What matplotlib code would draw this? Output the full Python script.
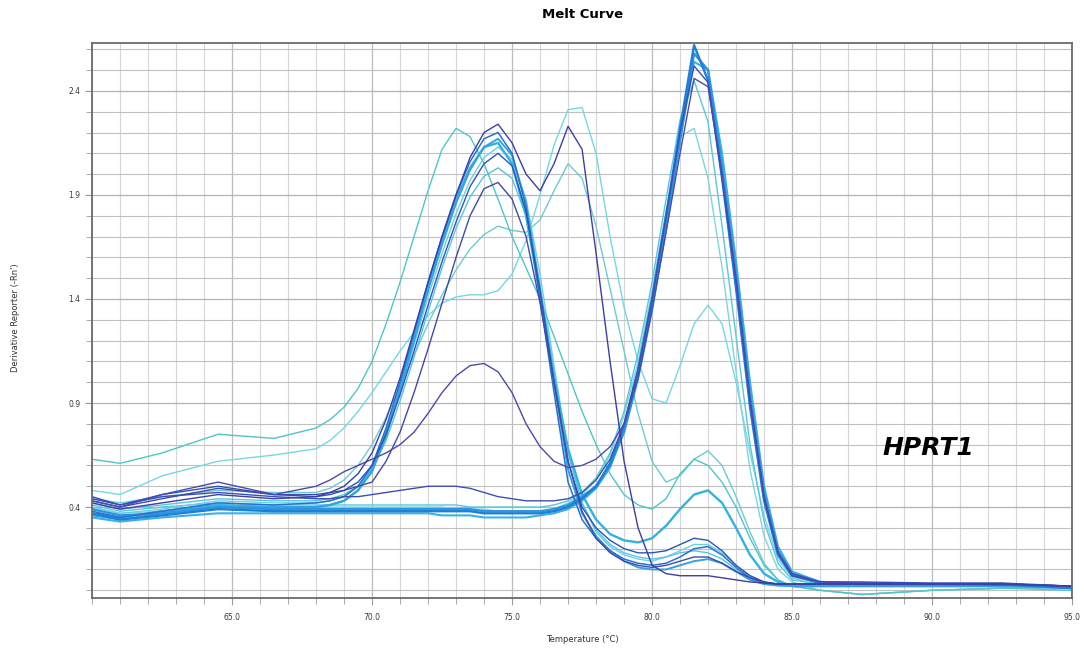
import numpy as np
import matplotlib
matplotlib.use('Agg')
import matplotlib.pyplot as plt
from matplotlib.ticker import MultipleLocator, FixedLocator, FormatStrFormatter

# temperature steps (deg C) shared by all wells
temps = [60, 61, 62.5, 64.5, 66.5,
         68, 68.5, 69, 69.5, 70,
         70.5, 71, 71.5, 72, 72.5,
         73, 73.5, 74, 74.5, 75,
         75.5, 76, 76.5, 77, 77.5,
         78, 78.5, 79, 79.5, 80,
         80.5, 81, 81.5, 82, 82.5,
         83, 83.5, 84, 84.5, 85,
         86, 87.5, 90, 92.5, 95]

# wells with the single HPRT1 product (~81.6)
a1 = [0.37, 0.34, 0.36, 0.39, 0.38, 0.38, 0.38, 0.38, 0.38, 0.38,
      0.38, 0.38, 0.38, 0.38, 0.38, 0.38, 0.38, 0.37, 0.37, 0.37,
      0.37, 0.37, 0.38, 0.40, 0.44, 0.50, 0.61, 0.79, 1.06, 1.40,
      1.80, 2.22, 2.62, 2.45, 1.98, 1.45, 0.88, 0.43, 0.17, 0.07,
      0.035, 0.03, 0.03, 0.03, 0.01]
a2 = [0.39, 0.36, 0.37, 0.40, 0.39, 0.39, 0.39, 0.39, 0.39, 0.39,
      0.39, 0.39, 0.39, 0.39, 0.39, 0.39, 0.39, 0.38, 0.38, 0.38,
      0.38, 0.38, 0.39, 0.41, 0.45, 0.50, 0.60, 0.76, 1.02, 1.35,
      1.74, 2.16, 2.58, 2.50, 2.04, 1.52, 0.94, 0.47, 0.19, 0.08,
      0.04, 0.035, 0.03, 0.03, 0.015]
a3 = [0.35, 0.33, 0.35, 0.37, 0.37, 0.37, 0.37, 0.37, 0.37, 0.37,
      0.37, 0.37, 0.37, 0.37, 0.36, 0.36, 0.36, 0.35, 0.35, 0.35,
      0.35, 0.36, 0.37, 0.39, 0.43, 0.49, 0.59, 0.77, 1.03, 1.36,
      1.76, 2.17, 2.54, 2.50, 2.10, 1.58, 1.00, 0.50, 0.21, 0.09,
      0.04, 0.03, 0.03, 0.025, 0.01]
a4 = [0.43, 0.40, 0.46, 0.52, 0.46, 0.50, 0.53, 0.57, 0.60, 0.63,
      0.66, 0.70, 0.76, 0.85, 0.95, 1.03, 1.08, 1.09, 1.05, 0.95,
      0.80, 0.69, 0.62, 0.59, 0.60, 0.63, 0.69, 0.80, 1.02, 1.35,
      1.72, 2.10, 2.46, 2.42, 2.00, 1.50, 0.92, 0.45, 0.18, 0.08,
      0.04, 0.035, 0.03, 0.03, 0.02]
a5 = [0.41, 0.38, 0.40, 0.42, 0.41, 0.41, 0.41, 0.41, 0.41, 0.41,
      0.41, 0.41, 0.41, 0.41, 0.41, 0.41, 0.40, 0.40, 0.40, 0.40,
      0.40, 0.40, 0.41, 0.43, 0.47, 0.54, 0.66, 0.86, 1.14, 1.48,
      1.88, 2.26, 2.45, 2.25, 1.75, 1.22, 0.70, 0.33, 0.13, 0.05,
      0.03, 0.03, 0.03, 0.03, 0.02]
a6 = [0.40, 0.37, 0.38, 0.41, 0.40, 0.40, 0.40, 0.40, 0.40, 0.40,
      0.40, 0.40, 0.40, 0.40, 0.40, 0.39, 0.39, 0.39, 0.38, 0.38,
      0.38, 0.38, 0.39, 0.42, 0.46, 0.53, 0.65, 0.84, 1.10, 1.44,
      1.82, 2.18, 2.22, 1.98, 1.55, 1.05, 0.58, 0.26, 0.10, 0.04,
      0.0, -0.02, 0.0, 0.01, 0.01]
a7 = [0.44, 0.41, 0.45, 0.47, 0.45, 0.44, 0.44, 0.45, 0.45, 0.46,
      0.47, 0.48, 0.49, 0.50, 0.50, 0.50, 0.49, 0.47, 0.45, 0.44,
      0.43, 0.43, 0.43, 0.44, 0.47, 0.53, 0.63, 0.80, 1.06, 1.40,
      1.80, 2.20, 2.52, 2.44, 1.98, 1.48, 0.90, 0.45, 0.18, 0.07,
      0.04, 0.04, 0.035, 0.035, 0.02]

# wells with the low temperature product (~74)
d1 = [0.42, 0.39, 0.42, 0.46, 0.44, 0.45, 0.47, 0.50, 0.56, 0.66,
      0.82, 1.02, 1.25, 1.48, 1.70, 1.90, 2.08, 2.20, 2.24, 2.15,
      2.00, 1.92, 2.05, 2.23, 2.12, 1.62, 1.10, 0.62, 0.30, 0.12,
      0.08, 0.07, 0.07, 0.07, 0.06, 0.05, 0.04, 0.035, 0.03, 0.03,
      0.03, 0.03, 0.03, 0.03, 0.02]
b1 = [0.38, 0.35, 0.38, 0.42, 0.41, 0.42, 0.43, 0.45, 0.50, 0.60,
      0.78, 1.00, 1.24, 1.48, 1.70, 1.90, 2.06, 2.17, 2.20, 2.10,
      1.84, 1.40, 0.95, 0.52, 0.34, 0.25, 0.19, 0.15, 0.13, 0.12,
      0.13, 0.16, 0.20, 0.21, 0.17, 0.11, 0.06, 0.035, 0.03, 0.03,
      0.03, 0.03, 0.03, 0.025, 0.02]
b2 = [0.36, 0.34, 0.37, 0.40, 0.40, 0.40, 0.41, 0.43, 0.48, 0.57,
      0.74, 0.96, 1.20, 1.44, 1.66, 1.86, 2.02, 2.13, 2.17, 2.09,
      1.86, 1.45, 1.00, 0.58, 0.37, 0.26, 0.19, 0.14, 0.11, 0.10,
      0.10, 0.12, 0.14, 0.15, 0.13, 0.09, 0.05, 0.03, 0.025, 0.02,
      0.02, 0.02, 0.02, 0.02, 0.015]
b3 = [0.40, 0.37, 0.39, 0.43, 0.42, 0.42, 0.43, 0.45, 0.50, 0.59,
      0.75, 0.96, 1.18, 1.41, 1.62, 1.81, 1.97, 2.08, 2.13, 2.07,
      1.88, 1.52, 1.08, 0.66, 0.42, 0.28, 0.21, 0.17, 0.15, 0.14,
      0.16, 0.19, 0.22, 0.22, 0.18, 0.12, 0.07, 0.04, 0.025, 0.02,
      0.0, -0.02, 0.0, 0.01, 0.01]
b4 = [0.45, 0.41, 0.46, 0.50, 0.46, 0.45, 0.46, 0.48, 0.52, 0.60,
      0.75, 0.94, 1.15, 1.37, 1.58, 1.77, 1.94, 2.05, 2.10, 2.04,
      1.82, 1.44, 1.00, 0.62, 0.40, 0.30, 0.24, 0.20, 0.18, 0.18,
      0.19, 0.22, 0.25, 0.24, 0.19, 0.12, 0.07, 0.04, 0.03, 0.03,
      0.03, 0.03, 0.03, 0.03, 0.02]
b5 = [0.43, 0.40, 0.44, 0.49, 0.46, 0.46, 0.47, 0.48, 0.50, 0.52,
      0.62, 0.76, 0.95, 1.16, 1.38, 1.60, 1.80, 1.93, 1.96, 1.88,
      1.70, 1.38, 1.00, 0.62, 0.38, 0.25, 0.18, 0.14, 0.12, 0.11,
      0.12, 0.14, 0.16, 0.16, 0.13, 0.09, 0.06, 0.04, 0.03, 0.03,
      0.03, 0.03, 0.03, 0.03, 0.02]
b6 = [0.37, 0.35, 0.38, 0.41, 0.40, 0.40, 0.41, 0.43, 0.48, 0.58,
      0.76, 0.98, 1.22, 1.46, 1.68, 1.88, 2.03, 2.13, 2.15, 2.05,
      1.80, 1.42, 1.02, 0.68, 0.46, 0.34, 0.27, 0.24, 0.23, 0.25,
      0.31, 0.39, 0.46, 0.48, 0.42, 0.30, 0.17, 0.08, 0.04, 0.02,
      0.02, 0.02, 0.02, 0.02, 0.015]
b7 = [0.42, 0.39, 0.41, 0.44, 0.43, 0.43, 0.44, 0.46, 0.50, 0.58,
      0.72, 0.91, 1.12, 1.34, 1.55, 1.74, 1.89, 1.99, 2.03, 1.98,
      1.80, 1.46, 1.05, 0.66, 0.42, 0.29, 0.22, 0.18, 0.16, 0.15,
      0.16, 0.18, 0.19, 0.18, 0.15, 0.10, 0.06, 0.03, 0.02, 0.02,
      0.02, 0.02, 0.02, 0.02, 0.015]

# odd wells (early / shouldered peaks)
c1 = [0.63, 0.61, 0.66, 0.75, 0.73, 0.78, 0.82, 0.88, 0.97, 1.10,
      1.28, 1.48, 1.70, 1.92, 2.12, 2.22, 2.18, 2.05, 1.88, 1.70,
      1.55, 1.40, 1.22, 1.04, 0.86, 0.70, 0.56, 0.46, 0.41, 0.39,
      0.44, 0.56, 0.63, 0.60, 0.52, 0.40, 0.25, 0.12, 0.05, 0.02,
      0.0, -0.02, 0.0, 0.01, 0.0]
c2 = [0.48, 0.46, 0.55, 0.62, 0.65, 0.68, 0.72, 0.78, 0.86, 0.95,
      1.05, 1.15, 1.24, 1.32, 1.38, 1.41, 1.42, 1.42, 1.44, 1.52,
      1.68, 1.90, 2.14, 2.31, 2.32, 2.10, 1.70, 1.36, 1.10, 0.92,
      0.90, 1.08, 1.28, 1.37, 1.28, 1.00, 0.66, 0.36, 0.15, 0.06,
      0.02, 0.02, 0.03, 0.03, 0.02]
c3 = [0.44, 0.42, 0.45, 0.48, 0.47, 0.47, 0.49, 0.53, 0.60, 0.70,
      0.83, 0.98, 1.13, 1.28, 1.42, 1.54, 1.64, 1.71, 1.75, 1.73,
      1.72, 1.78, 1.92, 2.05, 1.98, 1.75, 1.45, 1.15, 0.85, 0.62,
      0.52, 0.55, 0.63, 0.67, 0.60, 0.45, 0.28, 0.13, 0.05, 0.02,
      0.02, 0.02, 0.02, 0.02, 0.01]

x_ticks = [65, 70, 75, 80, 85, 90, 95]
y_ticks = [0.4, 0.9, 1.4, 1.9, 2.4]

wells = [c2, c3, a6, a5, b3, b7, c1, a3, b6, b2, a2, a1, b1, b4, a7, b5, a4, d1]
colours = ['#72d9e4', '#6ccbd2', '#80d4dc', '#5cc6d6', '#6ccfe6', '#57c4e4',
           '#4ec6c8', '#3bb0e6', '#31b2e0', '#35a2de', '#2a96e2', '#1f7fd6',
           '#2b6fcf', '#2855b8', '#3a4fb5', '#404aa8', '#4a4aae', '#3d3da6']
widths = [1.0, 1.0, 1.0, 1.0, 1.0, 1.0, 1.0, 1.5, 1.7, 1.4, 1.7, 1.7,
          1.1, 1.0, 1.0, 1.0, 1.0, 1.0]

fig = plt.figure(figsize=(10.84, 6.49), dpi=100)
ax = fig.add_axes([0.0849, 0.0786, 0.9041, 0.8551])

for y, c, w in zip(wells, colours, widths):
    ax.plot(temps, y, color=c, lw=w)

ax.set_xlim(60, 95)
ax.set_ylim(-0.037, 2.63)

ax.xaxis.set_major_locator(FixedLocator(x_ticks))
ax.xaxis.set_minor_locator(MultipleLocator(1))
ax.xaxis.set_major_formatter(FormatStrFormatter('%.1f'))
ax.yaxis.set_major_locator(FixedLocator(y_ticks))
ax.yaxis.set_minor_locator(MultipleLocator(0.1))
ax.yaxis.set_major_formatter(FormatStrFormatter('%.1f'))

ax.grid(True, which='major', axis='y', color='#b4b4b4', lw=0.9)
ax.grid(True, which='minor', axis='y', color='#c0c0c0', lw=0.8)
ax.grid(True, which='major', axis='x', color='#bcbcbc', lw=0.9)
ax.grid(True, which='minor', axis='x', color='#d6d6d6', lw=0.8)
ax.set_axisbelow(True)

ax.tick_params(which='both', direction='out', color='#999999', labelsize=5.5,
               labelcolor='#3a3a3a')
ax.tick_params(which='major', length=5, width=0.8)
ax.tick_params(which='minor', length=4, width=0.6)
ax.tick_params(axis='x', pad=6)

for s in ax.spines.values():
    s.set_color('#6a6a6a')
    s.set_linewidth(1.3)

fig.text(0.537, 0.977, 'Melt Curve', ha='center', va='center',
         fontsize=9.5, fontweight='bold')
fig.text(0.537, 0.014, 'Temperature (\u00b0C)', ha='center', va='center',
         fontsize=6, color='#333333')
fig.text(0.014, 0.51, "Derivative Reporter (-Rn')", ha='center', va='center',
         rotation=90, fontsize=6, color='#333333')

ax.text(89.85, 0.685, 'HPRT1', ha='center', va='center', fontsize=18,
        fontweight='bold', fontstyle='italic')

fig.savefig('out.png', dpi=100)
